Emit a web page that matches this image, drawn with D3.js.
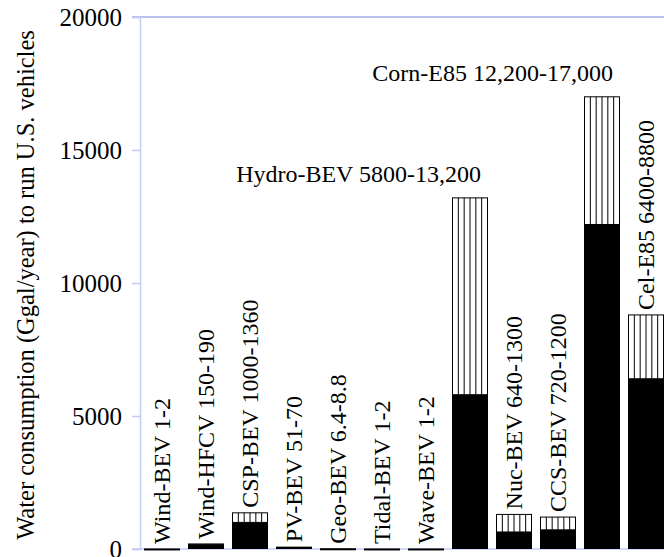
<!DOCTYPE html>
<html>
<head>
<meta charset="utf-8">
<script src="https://cdn.jsdelivr.net/npm/d3@7"></script>
<style>
  body { margin: 0; background: #fff; }
  text { font-family: "Liberation Serif", "Times New Roman", serif; fill: #000; }
</style>
</head>
<body>
<div id="chart"></div>
<script>
// data
const categories = ["Wind-BEV", "Wind-HFCV", "CSP-BEV", "PV-BEV", "Geo-BEV", "Tidal-BEV",
    "Wave-BEV", "Hydro-BEV", "Nuc-BEV", "CCS-BEV", "Corn-E85", "Cel-E85"];
const rangeLabels = ["1-2", "150-190", "1000-1360", "51-70", "6.4-8.8", "1-2",
    "1-2", "5800-13,200", "640-1300", "720-1200", "12,200-17,000", "6400-8800"];
const lowValues = [1, 150, 1000, 51, 6.4, 1, 1, 5800, 640, 720, 12200, 6400];
const highValues = [2, 190, 1360, 70, 8.8, 2, 2, 13200, 1300, 1200, 17000, 8800];
const yTicks = [0, 5000, 10000, 15000, 20000];
const yTitle = "Water consumption (Ggal/year) to run U.S. vehicles";

const width = 664, height = 557;
const margin = { top: 17, right: -4, bottom: 8, left: 140 };
const serif = '"Liberation Serif", "Times New Roman", serif';
const axisColor = "#c3cbf6";
const topLineColor = "#a3abe6";

const svg = d3.select("#chart").append("svg")
    .attr("width", width)
    .attr("height", height);

const x = d3.scaleBand()
    .domain(categories)
    .range([margin.left, width - margin.right])
    .paddingInner(8 / 44)
    .paddingOuter(4 / 44);

const y = d3.scaleLinear()
    .domain([0, 20000])
    .range([height - margin.bottom, margin.top]);

// top and bottom frame lines
svg.append("line")
    .attr("x1", margin.left - 8).attr("x2", width)
    .attr("y1", y(20000)).attr("y2", y(20000))
    .attr("stroke", topLineColor).attr("stroke-width", 1.5);

svg.append("line")
    .attr("x1", margin.left - 8).attr("x2", width)
    .attr("y1", y(0)).attr("y2", y(0))
    .attr("stroke", axisColor).attr("stroke-width", 1.5);

// Y axis
const yAxis = svg.append("g")
    .attr("transform", `translate(${margin.left},0)`)
    .call(d3.axisLeft(y).tickValues(yTicks).tickFormat(d3.format("d")).tickSize(8).tickPadding(10))
    .attr("font-family", serif)
    .attr("font-size", 25);
yAxis.select(".domain").attr("stroke", axisColor).attr("stroke-width", 1.5);
yAxis.selectAll(".tick line").attr("stroke", axisColor).attr("stroke-width", 1.5);
yAxis.selectAll(".tick text").attr("fill", "#000");

svg.append("text")
    .attr("transform", `translate(25, ${(y(0) + y(20000)) / 2 + 2}) rotate(-90)`)
    .attr("text-anchor", "middle")
    .attr("dy", "0.35em")
    .style("font-size", "24.5px")
    .text(yTitle);

const bars = categories.map((c, i) => ({
    name: c, range: rangeLabels[i], low: lowValues[i], high: highValues[i]
}));

const bw = x.bandwidth();

// hatched upper part (low..high)
const hatch = svg.append("g").selectAll("g.hatch")
    .data(bars)
    .join("g")
    .attr("class", "hatch");

hatch.append("rect")
    .attr("x", d => x(d.name) + 0.5)
    .attr("y", d => y(d.high))
    .attr("width", bw - 1)
    .attr("height", d => Math.max(1, y(d.low) - y(d.high)))
    .attr("fill", "#fff")
    .attr("stroke", "#000")
    .attr("stroke-width", 1);

hatch.selectAll("line")
    .data(d => d3.range(1, 6).map(k => ({ d, k })))
    .join("line")
    .attr("x1", e => x(e.d.name) + 0.5 + e.k * (bw - 1) / 6)
    .attr("x2", e => x(e.d.name) + 0.5 + e.k * (bw - 1) / 6)
    .attr("y1", e => y(e.d.high))
    .attr("y2", e => y(e.d.low))
    .attr("stroke", "#000")
    .attr("stroke-width", 1);

// solid lower part (0..low)
svg.append("g").selectAll("rect")
    .data(bars)
    .join("rect")
    .attr("x", d => x(d.name))
    .attr("y", d => y(d.low))
    .attr("width", bw)
    .attr("height", d => Math.max(1, y(0) - y(d.low)))
    .attr("fill", "#000");

// labels: vertical above short bars, horizontal for the tall ones
svg.append("g").selectAll("text")
    .data(bars)
    .join("text")
    .each(function (d) {
        const t = d3.select(this).text(`${d.name} ${d.range}`)
            .style("font-size", "24px");
        const cx = x(d.name) + bw / 2;
        if (d.high > 10000) {
            t.attr("x", cx + 11)
                .attr("y", y(d.high) - 16)
                .attr("text-anchor", "end");
        } else {
            t.attr("transform", `translate(${cx}, ${y(d.high) - 5}) rotate(-90)`)
                .attr("dy", "0.35em")
                .attr("text-anchor", "start");
        }
    });
</script>
</body>
</html>
